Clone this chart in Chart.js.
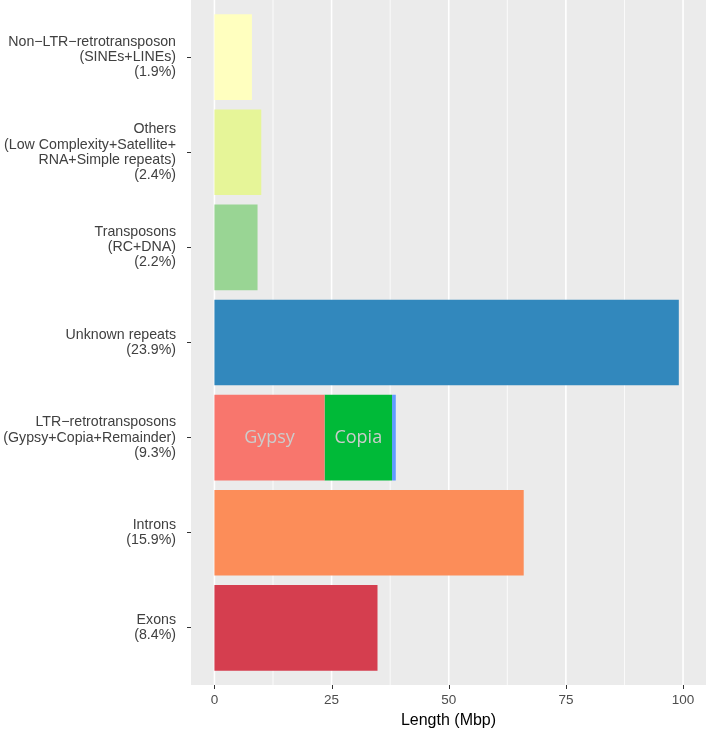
<!DOCTYPE html>
<html>
<head>
<meta charset="utf-8">
<script src="https://cdn.jsdelivr.net/npm/chart.js@4.4.1/dist/chart.umd.min.js"></script>
<style>
  html, body { margin: 0; padding: 0; background: #fff; }
  #wrap { width: 709px; height: 730px; }
</style>
</head>
<body>
<div id="wrap"><canvas id="c"></canvas></div>
<script>
const categories = [
  ['Non\u2212LTR\u2212retrotransposon', '(SINEs+LINEs)', '(1.9%)'],
  ['Others', '(Low Complexity+Satellite+', 'RNA+Simple repeats)', '(2.4%)'],
  ['Transposons', '(RC+DNA)', '(2.2%)'],
  ['Unknown repeats', '(23.9%)'],
  ['LTR\u2212retrotransposons', '(Gypsy+Copia+Remainder)', '(9.3%)'],
  ['Introns', '(15.9%)'],
  ['Exons', '(8.4%)']
];
// Mbp; the LTR entry holds the Gypsy part
const lengths   = [8.0, 10.0, 9.2, 99.1, 23.5, 66.0, 34.8];
const copia     = [null, null, null, null, 14.4, null, null];
const remainder = [null, null, null, null, 0.8, null, null];
const barColors = ['#ffffbf', '#e6f598', '#99d594', '#3288bd', '#f8766d', '#fc8d59', '#d53e4f'];
const segmentLabels = ['Gypsy', 'Copia'];
const xTicks = [0, 25, 50, 75, 100];
const xMinor = [12.5, 37.5, 62.5, 87.5];

const FONT = '"Liberation Sans", Arial, Helvetica, sans-serif';

const panel = {
  id: 'panel',
  beforeDraw(chart) {
    const { ctx, chartArea: a, scales: { x } } = chart;
    const pad = (a.bottom - a.top) / categories.length * 0.1;
    const top = a.top - pad, bottom = a.bottom + pad;
    ctx.save();
    ctx.fillStyle = '#ebebeb';
    ctx.fillRect(a.left, top, a.right - a.left, bottom - top);
    ctx.strokeStyle = '#ffffff';
    ctx.lineWidth = 0.8;
    xMinor.forEach(v => {
      const px = x.getPixelForValue(v);
      ctx.beginPath(); ctx.moveTo(px, top); ctx.lineTo(px, bottom); ctx.stroke();
    });
    ctx.lineWidth = 1.6;
    xTicks.forEach(v => {
      const px = x.getPixelForValue(v);
      ctx.beginPath(); ctx.moveTo(px, top); ctx.lineTo(px, bottom); ctx.stroke();
    });
    ctx.strokeStyle = '#333333';
    ctx.lineWidth = 1;
    xTicks.forEach(v => {
      const px = Math.round(x.getPixelForValue(v)) + 0.5;
      ctx.beginPath(); ctx.moveTo(px, bottom); ctx.lineTo(px, bottom + 4); ctx.stroke();
    });
    ctx.restore();
  },
  afterDatasetsDraw(chart) {
    const { ctx } = chart;
    ctx.save();
    ctx.font = '18px "Open Sans", sans-serif';
    ctx.fillStyle = '#cccccc';
    ctx.textAlign = 'center';
    ctx.textBaseline = 'middle';
    segmentLabels.forEach((txt, i) => {
      const bar = chart.getDatasetMeta(i).data[4];
      ctx.fillText(txt, (bar.x + bar.base) / 2, bar.y);
    });
    ctx.restore();
  }
};

new Chart(document.getElementById('c'), {
  type: 'bar',
  data: {
    labels: categories,
    datasets: [
      { label: 'main', data: lengths, backgroundColor: barColors },
      { label: 'Copia', data: copia, backgroundColor: '#00ba38' },
      { label: 'Remainder', data: remainder, backgroundColor: '#619cff' }
    ]
  },
  options: {
    indexAxis: 'y',
    responsive: true,
    maintainAspectRatio: false,
    animation: false,
    devicePixelRatio: 1,
    datasets: { bar: { barPercentage: 0.9, categoryPercentage: 1.0, borderWidth: 0 } },
    layout: { padding: { top: 9.5, right: 3, left: 0, bottom: 0 } },
    plugins: { legend: { display: false }, tooltip: { enabled: false } },
    scales: {
      x: {
        type: 'linear', stacked: true, min: -5, max: 104.9,
        grid: { display: false, drawTicks: false },
        border: { display: false },
        afterBuildTicks: s => { s.ticks = xTicks.map(v => ({ value: v })); },
        afterFit: s => { s.height = 54.5; s.paddingLeft = 0; s.paddingRight = 0; },
        ticks: { color: '#4d4d4d', padding: 16.5, font: { family: FONT, size: 13.5 } },
        title: {
          display: true, text: 'Length (Mbp)', color: '#000000',
          font: { family: FONT, size: 16 }, padding: { top: 4, bottom: 0 }
        }
      },
      y: {
        stacked: true,
        grid: { display: true, drawOnChartArea: false, drawTicks: true, tickLength: 4, tickColor: '#333333', offset: false },
        border: { display: false },
        afterFit: s => { s.width = 191; s.paddingTop = 0; s.paddingBottom = 0; },
        ticks: { color: '#404040', padding: 11, font: { family: FONT, size: 14.2, lineHeight: 1.07 } }
      }
    }
  },
  plugins: [panel]
});
</script>
</body>
</html>
